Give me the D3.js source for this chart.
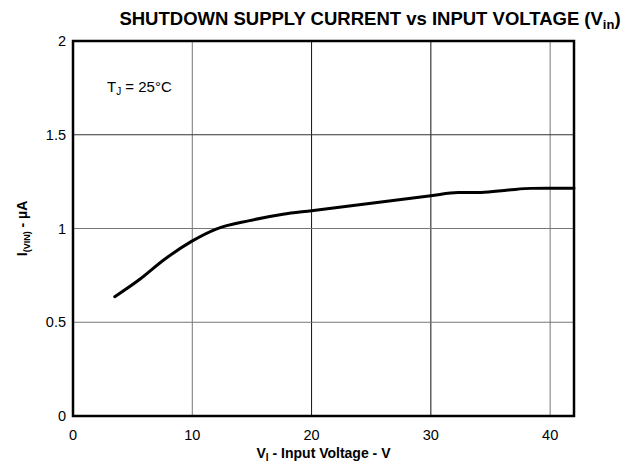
<!DOCTYPE html>
<html>
<head>
<meta charset="utf-8">
<script src="https://cdn.jsdelivr.net/npm/d3@7"></script>
<style>
  body { margin: 0; background: #fff; }
  svg { font-family: "Liberation Sans", Arial, sans-serif; }
</style>
</head>
<body>
<div id="chart"></div>
<script>
// datos (V_I en voltios, I_(VIN) en uA)
const voltaje = [3.5, 5.6, 7.6, 9.9, 12, 14.8, 17.6, 20, 25, 30, 32.3, 34.2, 36.5, 38.4, 42];
const corriente = [0.636, 0.729, 0.832, 0.93, 0.997, 1.042, 1.076, 1.095, 1.135, 1.175, 1.192, 1.192, 1.205, 1.214, 1.215];
const ticksX = [0, 10, 20, 30, 40];
const ticksY = [0, 0.5, 1, 1.5, 2];

const width = 634, height = 466;
const margin = { top: 41, right: 60, bottom: 50, left: 73 };

const svg = d3.select("#chart").append("svg")
    .attr("width", width)
    .attr("height", height);

const x = d3.scaleLinear().domain([0, 42]).range([margin.left, width - margin.right]);
const y = d3.scaleLinear().domain([0, 2]).range([height - margin.bottom, margin.top]);

// rejilla
const grisX = v => (v === 20 || v === 30) ? "#111" : "#777";
const grisY = v => (v === 1.5) ? "#333" : "#777";

svg.append("g").selectAll("line")
  .data(ticksX.filter(d => d > 0))
  .enter().append("line")
    .attr("x1", d => x(d)).attr("x2", d => x(d))
    .attr("y1", y(0)).attr("y2", y(2))
    .attr("stroke", d => grisX(d))
    .attr("stroke-width", 1);

svg.append("g").selectAll("line")
  .data(ticksY.filter(d => d > 0 && d < 2))
  .enter().append("line")
    .attr("x1", x(0)).attr("x2", x(42))
    .attr("y1", d => y(d)).attr("y2", d => y(d))
    .attr("stroke", d => grisY(d))
    .attr("stroke-width", 1);

// marco
svg.append("rect")
    .attr("x", x(0)).attr("y", y(2))
    .attr("width", x(42) - x(0))
    .attr("height", y(0) - y(2))
    .attr("fill", "none")
    .attr("stroke", "#000")
    .attr("stroke-width", 2.5);

// etiquetas de los ejes
svg.append("g").selectAll("text")
  .data(ticksX)
  .enter().append("text")
    .attr("x", d => x(d))
    .attr("y", y(0) + 24)
    .attr("text-anchor", "middle")
    .attr("font-size", 14.5)
    .text(d => d);

svg.append("g").selectAll("text")
  .data(ticksY)
  .enter().append("text")
    .attr("x", x(0) - 7)
    .attr("y", d => y(d) + 5)
    .attr("text-anchor", "end")
    .attr("font-size", 14.5)
    .text(d => d);

// curva
const linea = d3.line()
    .x(d => x(d[0]))
    .y(d => y(d[1]))
    .curve(d3.curveMonotoneX);

svg.append("path")
    .datum(d3.zip(voltaje, corriente))
    .attr("d", linea)
    .attr("fill", "none")
    .attr("stroke", "#000")
    .attr("stroke-width", 3)
    .attr("stroke-linecap", "round");

// titulo
const titulo = svg.append("text")
    .attr("x", 370)
    .attr("y", 25)
    .attr("text-anchor", "middle")
    .attr("font-size", 18.5)
    .attr("font-weight", "bold");
titulo.append("tspan").text("SHUTDOWN SUPPLY CURRENT vs INPUT VOLTAGE (V");
titulo.append("tspan").attr("font-size", 13).attr("dy", 4).text("in");
titulo.append("tspan").attr("dy", -4).text(")");

// etiqueta eje x
const etX = svg.append("text")
    .attr("x", (x(0) + x(42)) / 2)
    .attr("y", 458)
    .attr("text-anchor", "middle")
    .attr("font-size", 14)
    .attr("font-weight", "bold");
etX.append("tspan").text("V");
etX.append("tspan").attr("font-size", 10).attr("dy", 3).text("I");
etX.append("tspan").attr("dy", -3).text(" - Input Voltage - V");

// etiqueta eje y
const etY = svg.append("text")
    .attr("transform", `translate(27,${(y(0) + y(2)) / 2}) rotate(-90)`)
    .attr("text-anchor", "middle")
    .attr("font-size", 14)
    .attr("font-weight", "bold");
etY.append("tspan").text("I");
etY.append("tspan").attr("font-size", 9).attr("dy", 3).text("(VIN)");
etY.append("tspan").attr("dy", -3).text(" - \u00b5A");

// temperatura
const tj = svg.append("text")
    .attr("x", 107)
    .attr("y", 92)
    .attr("font-size", 15);
tj.append("tspan").text("T");
tj.append("tspan").attr("font-size", 10).attr("dy", 3).text("J");
tj.append("tspan").attr("dy", -3).text(" = 25\u00b0C");
</script>
</body>
</html>
